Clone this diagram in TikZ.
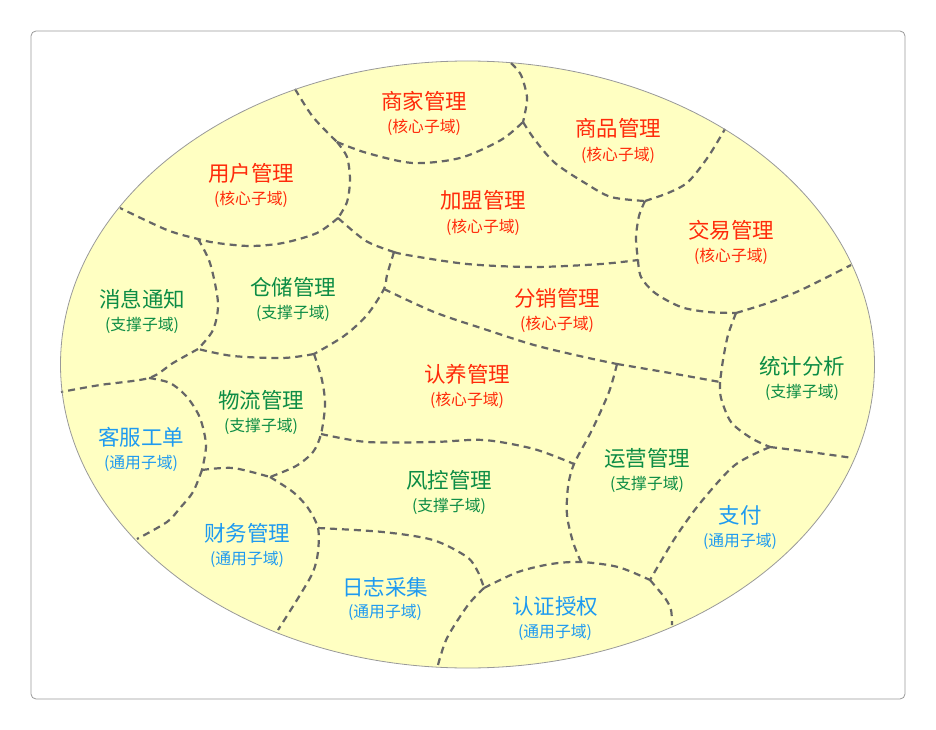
\documentclass[tikz,border=0pt]{standalone}
\usepackage{fontspec}
\setmainfont{Noto Sans CJK SC}
\definecolor{corered}{HTML}{FF2A0A}
\definecolor{supgreen}{HTML}{0C8C45}
\definecolor{genblue}{HTML}{1E9AF0}
\definecolor{areafill}{HTML}{FFFFC2}
\definecolor{cutgray}{HTML}{666666}
\definecolor{rimgray}{HTML}{999999}

\begin{document}
\begin{tikzpicture}[x=1pt,y=-1pt,
  cut/.style={draw=cutgray, line width=2.2pt, dash pattern=on 7pt off 5pt},
  areaname/.style={inner sep=0pt, font=\fontsize{21.5}{24}\selectfont},
  areatag/.style={inner sep=0pt, font=\fontsize{15.8}{18}\selectfont},
  corename/.style={areaname, text=corered}, coretag/.style={areatag, text=corered},
  supname/.style={areaname, text=supgreen}, suptag/.style={areatag, text=supgreen},
  genname/.style={areaname, text=genblue}, gentag/.style={areatag, text=genblue}]
\useasboundingbox (0,0) rectangle (936,730);
\draw[rimgray, line width=0.8pt, rounded corners=5pt] (31,31) rectangle (905,699);
\fill[areafill] (467.5,364.5) ellipse [x radius=407pt, y radius=303.5pt];

% junctions
\coordinate (j1) at (337,142);
\coordinate (j2) at (523,122);
\coordinate (j3) at (338,218);
\coordinate (j4) at (198,239);
\coordinate (j5) at (394,252);
\coordinate (j6) at (638,260);
\coordinate (j7) at (314,354);
\coordinate (j8) at (384,289);
\coordinate (j9) at (617,364);
\coordinate (j10) at (720,382);
\coordinate (j11) at (736,313);
\coordinate (j12) at (645,201);
\coordinate (j13) at (770,447);
\coordinate (j14) at (650,580);
\coordinate (j15) at (581,562);
\coordinate (j16) at (574,464);
\coordinate (j17) at (321,434);
\coordinate (j18) at (198,349);
\coordinate (j19) at (149,378);
\coordinate (j20) at (202,470);
\coordinate (j21) at (270,477);
\coordinate (j22) at (484,588);
\coordinate (j23) at (318,528);

% borders between the areas
\draw[cut] plot[smooth] coordinates {(295,89) (313,117) (j1)};
\draw[cut] plot[smooth] coordinates {(j1) (367,153) (413,163) (460,158) (501,140) (j2)};
\draw[cut] plot[smooth] coordinates {(511,63) (521,75) (527,97) (525,113) (j2)};
\draw[cut] plot[smooth] coordinates {(j2) (535,140) (555,163) (585,183) (611,197) (j12)};
\draw[cut] plot[smooth] coordinates {(j12) (668,193) (688,182) (708,157) (725,129)};
\draw[cut] plot[smooth] coordinates {(j12) (639,216) (636,238) (j6)};
\draw[cut] plot[smooth] coordinates {(j6) (641,277) (655,293) (681,307) (708,312) (j11)};
\draw[cut] plot[smooth] coordinates {(j11) (768,303) (801,290) (851,265)};
\draw[cut] plot[smooth] coordinates {(j11) (728,335) (723,360) (j10)};
\draw[cut] plot[smooth] coordinates {(j1) (347,157) (350,180) (347,202) (j3)};
\draw[cut] plot[smooth] coordinates {(j3) (317,233) (283,243) (250,246) (217,243) (j4) (167,230) (120,208)};
\draw[cut] plot[smooth] coordinates {(j3) (366,241) (j5)};
\draw[cut] plot[smooth] coordinates {(j5) (407,255) (467,264) (534,267) (601,264) (j6)};
\draw[cut] plot[smooth] coordinates {(j5) (387,275) (j8) (367,315) (344,336) (j7)};
\draw[cut] plot[smooth] coordinates {(j8) (434,312) (484,329) (534,345) (584,357) (j9)};
\draw[cut] plot[smooth] coordinates {(j9) (670,373) (j10)};
\draw[cut] plot[smooth] coordinates {(j10) (721,398) (731,422) (751,438) (j13)};
\draw[cut] plot[smooth] coordinates {(j13) (810,452) (853,458)};
\draw[cut] plot[smooth] coordinates {(j13) (735,465) (701,502) (675,538) (j14)};
\draw[cut] plot[smooth] coordinates {(j14) (665,598) (671,610) (672,625)};
\draw[cut] plot[smooth] coordinates {(j22) (518,572) (551,564) (j15) (618,567) (j14)};
\draw[cut] plot[smooth] coordinates {(j9) (609,392) (592,430) (j16) (568,487) (567,515) (573,542) (j15)};
\draw[cut] plot[smooth] coordinates {(j17) (367,442) (434,442) (484,440) (534,449) (j16)};
\draw[cut] plot[smooth] coordinates {(j7) (322,380) (325,405) (j17) (313,452) (296,466) (j21)};
\draw[cut] plot[smooth] coordinates {(j7) (283,358) (233,356) (j18)};
\draw[cut] plot[smooth] coordinates {(j4) (210,263) (218,303) (213,330) (j18)};
\draw[cut] plot[smooth] coordinates {(j18) (173,363) (j19) (100,385) (61,392)};
\draw[cut] plot[smooth] coordinates {(j19) (170,383) (187,397) (200,418) (206,445) (j20)};
\draw[cut] plot[smooth] coordinates {(j20) (193,492) (180,508) (167,522) (137,539)};
\draw[cut] plot[smooth] coordinates {(j20) (233,468) (j21)};
\draw[cut] plot[smooth] coordinates {(j21) (293,492) (308,508) (j23) (318,552) (313,572) (300,595) (278,630)};
\draw[cut] plot[smooth] coordinates {(j23) (383,532) (433,540) (467,557) (478,572) (j22)};
\draw[cut] plot[smooth] coordinates {(j22) (468,605) (447,638) (438,665)};

\draw[rimgray, line width=0.8pt] (467.5,364.5) ellipse [x radius=407pt, y radius=303.5pt];

% areas
\node[corename] (shangjia) at (424,101) {商家管理};
\node[coretag] (shangjia-t) at (424,127) {(核心子域)};
\node[corename] (shangpin) at (618,128) {商品管理};
\node[coretag] (shangpin-t) at (618,155) {(核心子域)};
\node[corename] (yonghu) at (251,173) {用户管理};
\node[coretag] (yonghu-t) at (251,199) {(核心子域)};
\node[corename] (jiameng) at (483,200) {加盟管理};
\node[coretag] (jiameng-t) at (483,227) {(核心子域)};
\node[corename] (jiaoyi) at (731,230) {交易管理};
\node[coretag] (jiaoyi-t) at (731,256) {(核心子域)};
\node[supname] (xiaoxi) at (142,299) {消息通知};
\node[suptag] (xiaoxi-t) at (142,325) {(支撑子域)};
\node[supname] (cangchu) at (293,287) {仓储管理};
\node[suptag] (cangchu-t) at (293,313) {(支撑子域)};
\node[corename] (fenxiao) at (557,298) {分销管理};
\node[coretag] (fenxiao-t) at (557,324) {(核心子域)};
\node[supname] (tongji) at (802,366) {统计分析};
\node[suptag] (tongji-t) at (802,392) {(支撑子域)};
\node[corename] (renyang) at (467,374) {认养管理};
\node[coretag] (renyang-t) at (467,400) {(核心子域)};
\node[supname] (wuliu) at (261,400) {物流管理};
\node[suptag] (wuliu-t) at (261,426) {(支撑子域)};
\node[genname] (kefu) at (141,437) {客服工单};
\node[gentag] (kefu-t) at (141,463) {(通用子域)};
\node[supname] (fengkong) at (449,480) {风控管理};
\node[suptag] (fengkong-t) at (449,506) {(支撑子域)};
\node[supname] (yunying) at (647,458) {运营管理};
\node[suptag] (yunying-t) at (647,484) {(支撑子域)};
\node[genname] (zhifu) at (740,515) {支付};
\node[gentag] (zhifu-t) at (740,541) {(通用子域)};
\node[genname] (caiwu) at (247,533) {财务管理};
\node[gentag] (caiwu-t) at (247,559) {(通用子域)};
\node[genname] (rizhi) at (385,587) {日志采集};
\node[gentag] (rizhi-t) at (385,612) {(通用子域)};
\node[genname] (renzheng) at (555,606) {认证授权};
\node[gentag] (renzheng-t) at (555,632) {(通用子域)};
\end{tikzpicture}
\end{document}
